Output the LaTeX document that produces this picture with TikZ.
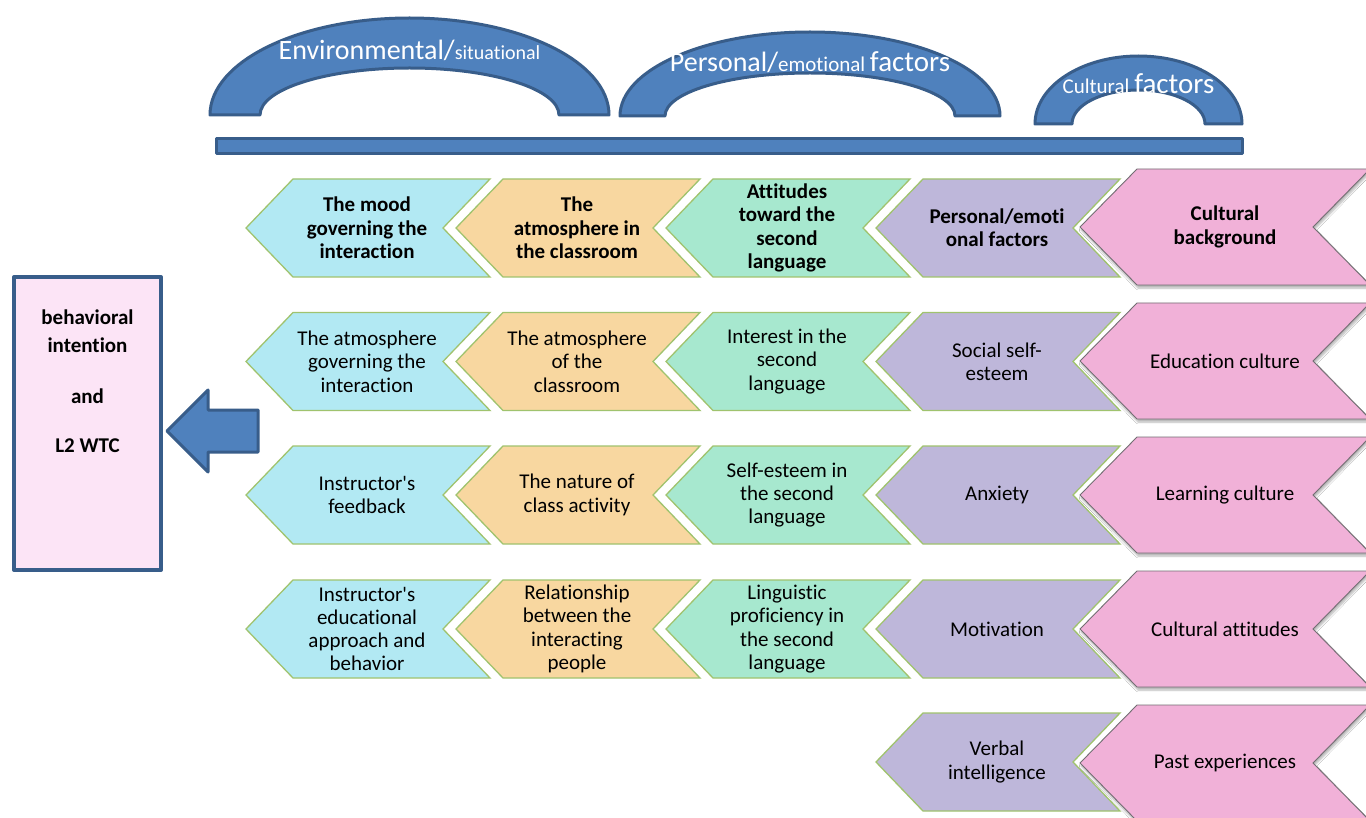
\documentclass[tikz,border=0pt]{standalone}
\usepackage{fontspec}
\setmainfont{Carlito}[Ligatures={NoCommon}]
\usetikzlibrary{shadows.blur}

\definecolor{arcfill}{RGB}{79,129,189}
\definecolor{arcedge}{RGB}{56,93,138}
\definecolor{cyanfill}{RGB}{178,233,243}
\definecolor{peachfill}{RGB}{248,215,160}
\definecolor{mintfill}{RGB}{167,232,207}
\definecolor{lavfill}{RGB}{190,183,218}
\definecolor{pinkfill}{RGB}{241,177,216}
\definecolor{chevedge}{RGB}{160,195,110}
\definecolor{pinkedge}{RGB}{115,110,115}
\definecolor{boxfill}{RGB}{252,228,246}

\tikzset{
  bluepart/.style={fill=arcfill, draw=arcedge, line width=3pt, line join=round},
  chevshape/.style={fill=#1, draw=chevedge, line width=1.3pt, line join=miter},
  pinkshape/.style={fill=pinkfill, draw=pinkedge, line width=0.9pt,
    blur shadow={shadow xshift=1pt, shadow yshift=-3pt, shadow blur steps=6, shadow opacity=30}},
  chevtext/.style={align=center, inner sep=0pt, text=black,
    font=\fontsize{21}{23.3}\selectfont},
  chevhead/.style={chevtext, font=\fontsize{21}{23.3}\selectfont\bfseries},
  arctext/.style={anchor=base, inner sep=0pt, text=white},
  boxtext/.style={anchor=base, inner sep=0pt, text=black,
    font=\fontsize{21}{24}\selectfont\bfseries},
}

% small chevron: #1 node name, #2 tip x, #3 centre y, #4 fill, #5 text style, #6 text
\newcommand{\smallchev}[6]{%
  \path[chevshape=#4] (#2,#3) -- ++(47,49) -- ++(197,0) -- ++(-47,-49)
    -- ++(47,-49) -- ++(-197,0) -- cycle;
  \node[#5] (#1) at ({#2+121},#3) {#6};
}
% large pink chevron: #1 node name, #2 centre y, #3 text style, #4 text
\newcommand{\bigchev}[4]{%
  \path[pinkshape] (1080,#2) -- ++(57,58) -- ++(233,0) -- ++(-57,-58)
    -- ++(57,-58) -- ++(-233,0) -- cycle;
  \node[#3] (#1) at (1225,#2) {#4};
}

\begin{document}
\begin{tikzpicture}[x=1pt, y=1pt]
\path[use as bounding box, clip] (0,0) rectangle (1366,-818);
\fill[white] (0,0) rectangle (1366,-818);

% arched headings
\path[bluepart] (210,-115) arc[start angle=180, end angle=0, x radius=199.5, y radius=97]
  -- (559,-115) arc[start angle=0, end angle=180, x radius=149.5, y radius=47] -- cycle;
\path[bluepart] (620,-116) arc[start angle=180, end angle=0, x radius=190, y radius=84]
  -- (955,-116) arc[start angle=0, end angle=180, x radius=145, y radius=43] -- cycle;
\path[bluepart] (1035,-124) arc[start angle=180, end angle=0, x radius=103.5, y radius=68]
  -- (1205,-124) arc[start angle=0, end angle=180, x radius=66.5, y radius=34] -- cycle;

\node[arctext] (envlabel) at (409.5,-60)
  {{\fontsize{28}{30}\selectfont Environmental/}{\fontsize{20}{22}\selectfont situational}};
\node[arctext] (perslabel) at (810,-72)
  {{\fontsize{28}{30}\selectfont Personal/}{\fontsize{21}{22}\selectfont emotional }{\fontsize{29}{30}\selectfont factors}};
\node[arctext] (cultlabel) at (1138.5,-94)
  {{\fontsize{21}{22}\selectfont Cultural }{\fontsize{29}{30}\selectfont factors}};

% horizontal bar
\path[bluepart] (216,-139) rectangle (1242,-154);

% outcome box and arrow
\path[fill=boxfill, draw=arcedge, line width=4pt, line join=round] (14,-277) rectangle (161,-570);
\node[boxtext] (wtcA) at (87.5,-325) {behavioral};
\node[boxtext] (wtcB) at (87.5,-353) {intention};
\node[boxtext] (wtcC) at (87.5,-403) {and};
\node[boxtext] (wtcD) at (87.5,-452) {L2 WTC};

\path[bluepart] (167,-431) -- (208,-390) -- (208,-410) -- (258,-410) -- (258,-452)
  -- (208,-452) -- (208,-472) -- cycle;

% row 1 (headings)
\smallchev{rA1}{246}{-228}{cyanfill}{chevhead}{The mood\\governing the\\interaction}
\smallchev{rA2}{456}{-228}{peachfill}{chevhead}{The\\atmosphere in\\the classroom}
\smallchev{rA3}{666}{-228}{mintfill}{chevhead}{Attitudes\\toward the\\second\\language}
\smallchev{rA4}{876}{-228}{lavfill}{chevhead}{Personal/emoti\\onal factors}
\bigchev{rA5}{-227}{chevhead}{Cultural\\background}

% row 2
\smallchev{rB1}{246}{-361.5}{cyanfill}{chevtext}{The atmosphere\\governing the\\interaction}
\smallchev{rB2}{456}{-361.5}{peachfill}{chevtext}{The atmosphere\\of the\\classroom}
\smallchev{rB3}{666}{-361.5}{mintfill}{chevtext}{Interest in the\\second\\language}
\smallchev{rB4}{876}{-361.5}{lavfill}{chevtext}{Social self-\\esteem}
\bigchev{rB5}{-361}{chevtext}{Education culture}

% row 3
\smallchev{rC1}{246}{-495}{cyanfill}{chevtext}{Instructor\textquotesingle s\\feedback}
\smallchev{rC2}{456}{-495}{peachfill}{chevtext}{The nature of\\class activity}
\smallchev{rC3}{666}{-495}{mintfill}{chevtext}{Self-esteem in\\the second\\language}
\smallchev{rC4}{876}{-495}{lavfill}{chevtext}{Anxiety}
\bigchev{rC5}{-495}{chevtext}{Learning culture}

% row 4
\smallchev{rD1}{246}{-629}{cyanfill}{chevtext}{Instructor\textquotesingle s\\educational\\approach and\\behavior}
\smallchev{rD2}{456}{-629}{peachfill}{chevtext}{Relationship\\between the\\interacting\\people}
\smallchev{rD3}{666}{-629}{mintfill}{chevtext}{Linguistic\\proficiency in\\the second\\language}
\smallchev{rD4}{876}{-629}{lavfill}{chevtext}{Motivation}
\bigchev{rD5}{-629}{chevtext}{Cultural attitudes}

% row 5
\smallchev{rE4}{876}{-762}{lavfill}{chevtext}{Verbal\\intelligence}
\bigchev{rE5}{-763}{chevtext}{Past experiences}
\end{tikzpicture}
\end{document}
